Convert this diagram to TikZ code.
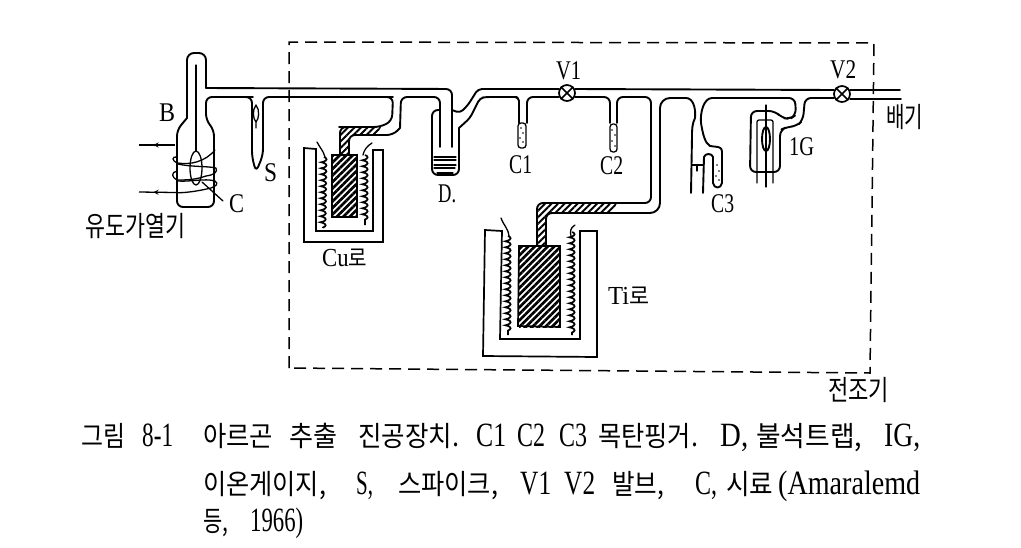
\documentclass[tikz,border=0pt]{standalone}
\usepackage{fontspec}
\usepackage{graphicx}
\setmainfont{Liberation Serif}
\newfontfamily\cjk{Noto Sans CJK KR}
\usetikzlibrary{patterns.meta,decorations.pathmorphing,decorations.markings,arrows}
\tikzset{
  x=1pt,y=-1pt,
  pipe/.style={line width=1.9pt,line join=round,line cap=round,rounded corners=6pt},
  thin pipe/.style={line width=1.3pt,line join=round,line cap=round},
  sharp/.style={line width=1.7pt,line join=miter},
  boundary/.style={line width=1.5pt,dash pattern=on 12pt off 7pt},
  coilwire/.style={line width=1.7pt,decorate,decoration={coil,segment length=6pt,amplitude=2.6pt,aspect=0.3}},
  hatch/.style={pattern={Lines[angle=45,distance=4.6pt,line width=1.9pt]}},
  dense hatch/.style={pattern={Lines[angle=45,distance=4.6pt,line width=2.7pt]}},
  valve/.style={circle,draw,line width=1.7pt,fill=white,minimum size=16pt,inner sep=0pt},
  lab/.style={inner sep=0pt},
  fit text/.style={anchor=base west,inner sep=0pt},
  arrowline/.style={line width=1.3pt,postaction={decorate},decoration={markings,mark=at position 0.6 with {\arrow{stealth}}}},
}
\newcommand{\fitnode}[5]{% name, x0, x1, baseline y, text
  \pgfmathsetlengthmacro{\fitw}{(#3)-(#2)}%
  \node[fit text] (#1) at (#2,#4) {\resizebox{\fitw}{\height}{#5}};}
\newcommand{\ko}[1]{{\cjk\fontsize{28}{28}\selectfont #1}}
\newcommand{\la}[1]{{\fontsize{34}{34}\selectfont #1}}
\newcommand{\lbl}[1]{{\fontsize{27}{27}\selectfont #1}}
\begin{document}
\begin{tikzpicture}
\useasboundingbox (0,0) rectangle (1021,547);
\fill[white] (0,0) rectangle (1021,547);

% dashed enclosure
\draw[boundary] (289,368) -- (289,42) -- (874,43) -- (870,373) -- cycle;

% hatch fills
\fill[hatch] (340,155) -- (340,131) -- (345,127) -- (381,127) -- (377,135) -- (349,135) -- (349,155) -- cycle;
\fill[hatch] (537,246) -- (537,208) -- (542,203) -- (617,203) -- (612,213) -- (552,213) -- (546,219) -- (546,246) -- cycle;

% sample tube B
\draw[pipe,rounded corners=7pt] (206,88) -- (206,53) -- (187,53) -- (187,118);
\draw[pipe] (187,118) -- (177,130) -- (177,207) -- (214,207) -- (214,130) -- (206,120) -- (206,97) -- (247,97) -- (252,97) -- (252,157) -- (256,172) -- (263,155) -- (263,97) -- (387,97) -- (393,97) -- (392,121) -- (380,127) -- (345,127) -- (340,127) -- (340,155);
\draw[thin pipe] (196,65) -- (196,151);
\draw[thin pipe] (196,168) ellipse (6 and 17);
% spike inner
\draw[thin pipe] (256,105) .. controls (260,110) and (259,119) .. (256,122) -- (256,128) -- (256,122) .. controls (253,119) and (252,110) .. (256,105);
% upper main line
\draw[pipe] (206,88) -- (452,89) -- (452,147);
\draw[pipe] (400,128) -- (401,97) -- (440,97) -- (440,147);
\draw[pipe] (400,128) -- (393,135) -- (349,135) -- (349,155);
% trap D
\draw[pipe] (440,110) -- (432,110) -- (432,175) -- (459,175) -- (459,128);
\draw[pipe,rounded corners=4pt] (452,110) -- (460,113) -- (468,105) -- (478,89) -- (559,89);
\draw[pipe,rounded corners=4pt] (459,128) -- (470,118) -- (480,98) -- (486,97) -- (513,97) -- (519,97) -- (519,123);
\draw[thin pipe] (434,157) -- (456,157) (434,160) -- (456,160) (434,165) -- (456,165) (434,168) -- (455,168) (437,173) -- (453,173);
% C1
\draw[pipe] (527,123) -- (527,97) -- (559,97);
\draw[thin pipe,rounded corners=3pt] (518,123) rectangle (526,148);
\fill (521,128) circle (.9) (523,133) circle (.9) (520,138) circle (.9) (523,142) circle (.9);
% valves and main
\node[valve] (V1) at (567,93) {};
\draw[line width=1.5pt] (V1.north west) -- (V1.south east) (V1.north east) -- (V1.south west);
\draw[pipe] (575,89) -- (834,90);
\draw[pipe] (575,97) -- (610,97) -- (610,123);
% C2
\draw[thin pipe,rounded corners=3pt] (610,124) rectangle (617,152);
\fill (612,130) circle (.9) (615,135) circle (.9) (612,141) circle (.9) (615,146) circle (.9);
\draw[pipe] (617,123) -- (617,97) -- (651,97) -- (651,203) -- (537,203) -- (537,246);
\draw[pipe,rounded corners=10pt] (686,98) -- (660,98) -- (660,213) -- (552,213);
\draw[pipe] (552,213) -- (546,213) -- (546,246);
% C3 branch
\draw[pipe,rounded corners=0pt] (686,98) .. controls (693,98) and (696,108) .. (695,118) .. controls (692,124) and (692,130) .. (692,137) -- (691,193);
\draw[pipe,rounded corners=0pt] (712,98) .. controls (704,98) and (700,112) .. (701,123) .. controls (703,135) and (705,143) .. (710,146) -- (718,147) .. controls (722,148) and (722,150) .. (722,154) -- (722,183) .. controls (721,189) and (714,189) .. (713,183) -- (713,157) .. controls (712,153) and (705,153) .. (704,157) -- (703,193);
\draw[thin pipe] (692,165) -- (703,165) (697,165) -- (697,171);
\fill (717,165) circle (.9) (719,171) circle (.9) (716,176) circle (.9) (719,180) circle (.9);
% 1G gauge
\draw[pipe] (712,98) -- (795,98) -- (796,115) -- (790,119) -- (782,118) -- (775,111) -- (751,111) -- (750,172) -- (780,172) -- (780,130) -- (787,127) -- (797,126) -- (803,120) -- (805,98) -- (834,98);
\draw[thin pipe,rounded corners=2pt] (757,183) -- (757,120) -- (773,120) -- (773,183);
\draw[thin pipe] (766,105) -- (766,187);
\draw[line width=1.9pt] (766,139) ellipse (4 and 12);
% V2 and exhaust
\node[valve] (V2) at (842,94) {};
\draw[line width=1.5pt] (V2.north west) -- (V2.south east) (V2.north east) -- (V2.south west);
\draw[pipe] (850,90) -- (900,90);
\draw[pipe] (850,99) -- (901,99);

% Cu furnace
\draw[sharp] (316,149) -- (304,148) -- (304,242) -- (383,242) -- (383,150) -- (373,150) -- (373,231) -- (316,231) -- cycle;
\fill[dense hatch] (332,155) rectangle (357,217);
\draw[sharp] (332,155) rectangle (357,217);
\draw[thin pipe] (317,142) .. controls (320,148) and (323,150) .. (325,157);
\draw[thin pipe] (372,143) .. controls (367,146) and (364,150) .. (363,155);
\draw[coilwire] (324,157) -- (323,228);
\draw[coilwire] (365,155) -- (365,225);

% Ti furnace
\draw[sharp] (502,231) -- (485,230) -- (483,356) -- (597,357) -- (597,231) -- (580,231) -- (580,339) -- (500,339) -- cycle;
\fill[dense hatch] (519,246) rectangle (560,327);
\draw[sharp] (519,246) -- (560,246) -- (560,327) -- (518,326) -- cycle;
\draw[thin pipe] (501,218) .. controls (504,226) and (508,228) .. (509,236);
\draw[thin pipe] (575,225) .. controls (570,228) and (570,232) .. (571,236);
\draw[coilwire] (508,236) -- (508,335);
\draw[coilwire] (572,232) -- (572,335);

% induction coil
\draw[arrowline] (175,145) -- (139,145);
\draw[thin pipe] (215,150) .. controls (205,162) and (190,165) .. (178,163) .. controls (171,161) and (172,156) .. (177,157);
\draw[thin pipe] (178,164) .. controls (190,167) and (208,166) .. (216,168) .. controls (218,172) and (214,175) .. (206,176) .. controls (195,180) and (185,180) .. (178,180) .. controls (171,178) and (171,172) .. (177,171);
\draw[thin pipe] (178,181) .. controls (190,182) and (205,178) .. (215,181) .. controls (219,184) and (216,186) .. (211,188) .. controls (190,193) and (178,193) .. (175,192.5);
\draw[arrowline] (175,192.5) -- (139,192);
\draw[thin pipe] (202,182) -- (223,201);

% labels
\fitnode{labB}{159}{175}{121}{\lbl{B}}
\fitnode{labC}{229}{244}{212}{\lbl{C}}
\fitnode{labS}{264}{277}{181}{\lbl{S}}
\fitnode{labV1}{556}{581}{79}{\lbl{V1}}
\fitnode{labV2}{830}{856}{78}{\lbl{V2}}
\fitnode{labC1}{509}{532}{173}{\lbl{C1}}
\fitnode{labC2}{600}{623}{174}{\lbl{C2}}
\fitnode{labC3}{711}{734}{212}{\lbl{C3}}
\fitnode{labD}{438}{456}{202}{\lbl{D.}}
\fitnode{labG}{789}{814}{155}{\lbl{1G}}
\fitnode{labI}{85}{185}{236}{\ko{유도가열기}}
\fitnode{labE}{886}{923}{127}{\ko{배기}}
\fitnode{labCu}{322}{367}{266}{{\fontsize{26}{26}\selectfont Cu}{\cjk\fontsize{23}{23}\selectfont 로}}
\fitnode{labTi}{608}{649}{304}{{\fontsize{26}{26}\selectfont Ti}{\cjk\fontsize{23}{23}\selectfont 로}}
\fitnode{labDry}{828}{889}{400}{\ko{전조기}}

% caption
\fitnode{a1}{81}{125}{446}{\ko{그림}}
\fitnode{a2}{142}{173}{446}{\la{8-1}}
\fitnode{a3}{203}{273}{446}{\ko{아르곤}}
\fitnode{a4}{289}{337}{446}{\ko{추출}}
\fitnode{a5}{358}{459}{446}{\ko{진공장치.}}
\fitnode{a6}{476}{506}{446}{\la{C1}}
\fitnode{a7}{517}{545}{446}{\la{C2}}
\fitnode{a8}{559}{587}{446}{\la{C3}}
\fitnode{a9}{598}{698}{446}{\ko{목탄핑거.}}
\fitnode{a10}{720}{748}{446}{\la{D,}}
\fitnode{a11}{756}{862}{446}{\ko{불석트랩,}}
\fitnode{a12}{884}{920}{446}{\la{IG,}}
\fitnode{b1}{203}{326}{494}{\ko{이온게이지,}}
\fitnode{b2}{356}{373}{494}{\la{S,}}
\fitnode{b3}{398}{498}{494}{\ko{스파이크,}}
\fitnode{b4}{520}{551}{494}{\la{V1}}
\fitnode{b5}{564}{595}{494}{\la{V2}}
\fitnode{b6}{612}{664}{494}{\ko{발브,}}
\fitnode{b7}{695}{717}{494}{\la{C,}}
\fitnode{b8}{726}{773}{494}{\ko{시료}}
\fitnode{b9}{778}{920}{494}{\la{(Amaralemd}}
\fitnode{c1}{203}{228}{531}{\ko{등,}}
\fitnode{c2}{250}{303}{531}{\la{1966)}}
\end{tikzpicture}
\end{document}
